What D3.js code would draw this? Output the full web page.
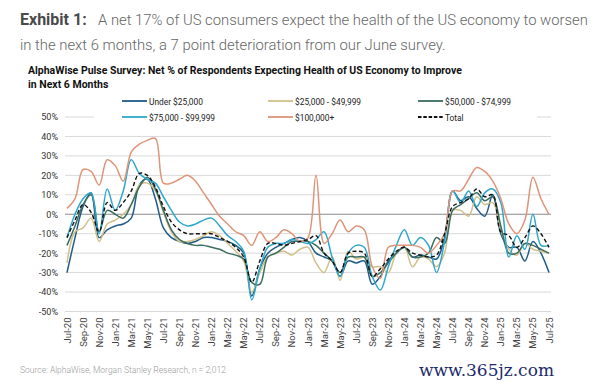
<!DOCTYPE html>
<html>
<head>
<meta charset="utf-8">
<script src="https://cdn.jsdelivr.net/npm/d3@7"></script>
<style>
  body { margin: 0; background: #fff; }
  svg { display: block; font-family: Roboto, "Liberation Sans", sans-serif; }
</style>
</head>
<body>
<svg id="chart" width="609" height="382"></svg>
<script>
// tick labels on the x axis (every second month)
const tickLabels = ["Jul-20","Sep-20","Nov-20","Jan-21","Mar-21","May-21","Jul-21","Sep-21","Nov-21","Jan-22",
  "Mar-22","May-22","Jul-22","Sep-22","Nov-22","Jan-23","Mar-23","May-23","Jul-23","Sep-23","Nov-23",
  "Jan-24","Mar-24","May-24","Jul-24","Sep-24","Nov-24","Jan-25","Mar-25","May-25","Jul-25"];

// monthly values, Jul-20 .. Jul-25 (net %)
const under25 = [-30,-12,4,11,-12,-8,-6,-5,-2,15,
  18,8,-7,-12,-14,-15,-14,-12,-12,-13,
  -14,-16,-20,-42,-28,-20,-17,-15,-13,-12,
  -14,-20,-22,-24,-32,-24,-25,-24,-36,-32,
  -24,-20,-17,-22,-21,-22,-23,-12,12,7,
  9,3,-1,10,-10,-17,-17,-24,-14,-20,
  -30];
const inc25to50 = [-25,-9,-7,-2,-14,-5,-3,0,5,15,
  16,12,1,-9,-14,-14,-13,-11,-9,-11,
  -15,-19,-24,-40,-30,-22,-20,-19,-21,-18,
  -17,-25,-30,-22,-34,-19,-23,-22,-27,-27,
  -30,-20,-17,-27,-22,-23,-27,-20,2,2,
  -1,9,5,6,-8,-18,-21,-15,-18,-19,
  -20];
const inc50to75 = [-16,-6,5,10,-9,2,0,-2,5,14,
  19,13,2,-8,-13,-15,-16,-16,-17,-18,
  -20,-21,-23,-35,-36,-22,-20,-17,-14,-14,
  -14,-16,-20,-24,-30,-22,-22,-22,-32,-30,
  -25,-20,-17,-22,-22,-20,-12,-15,2,5,
  8,11,7,9,-6,-20,-20,-15,-16,-18,
  -20];
const inc75to100 = [-12,0,8,11,-10,13,2,12,28,21,
  18,16,9,2,-4,-6,-5,-3,-2,-6,
  -11,-14,-19,-44,-28,-17,-15,-15,-13,-14,
  -15,-13,-9,-22,-32,-20,-16,-17,-32,-39,
  -27,-16,-8,-16,-12,-16,-30,-14,12,6,
  12,4,11,13,6,-22,-11,-18,0,-16,
  -16];
const over100 = [3,8,23,22,15,28,25,17,32,36,
  38,39,16,16,18,20,17,11,5,-1,
  -5,-9,-11,-16,-9,-14,-12,-8,-10,-14,
  -12,20,-15,-10,-3,-9,-6,-8,-27,-33,
  -17,-16,-16,-16,-17,-20,-16,-10,12,12,
  18,24,22,17,8,-5,-10,-3,19,8,
  0];
const total = [-12,-3,5,1,-9,6,2,6,12,21,
  20,14,4,-4,-8,-10,-10,-10,-10,-12,
  -14,-17,-22,-35,-24,-15,-15,-16,-15,-14,
  -13,-11,-20,-24,-30,-20,-19,-20,-32,-28,
  -23,-19,-17,-20,-21,-22,-21,-10,4,6,
  8,13,9,10,-9,-11,-17,-12,-6,-10,
  -17];

const series = [
  { name: "Under $25,000", values: under25, color: "#1f5c88" },
  { name: "$25,000 - $49,999", values: inc25to50, color: "#d1c089" },
  { name: "$50,000 - $74,999", values: inc50to75, color: "#3a6d60" },
  { name: "$75,000 - $99,999", values: inc75to100, color: "#2ea7cb" },
  { name: "$100,000+", values: over100, color: "#de9478" },
  { name: "Total", values: total, color: "#111", dash: "4,2.5" }
];

const svg = d3.select("#chart");
svg.append("rect").attr("width", 609).attr("height", 382).attr("fill", "#fff");

// fit a text into a given width by shrinking its font size (never growing it)
function fitText(sel, width) {
  const size = +sel.attr("font-size");
  const len = sel.node().getComputedTextLength();
  if (len > width) sel.attr("font-size", size * width / len);
  return sel;
}

// header text, both lines share the size the first line fits at
svg.append("text").attr("x", 20).attr("y", 25).attr("font-size", 16).attr("font-weight", 700)
  .attr("fill", "#4a4a4a").text("Exhibit 1:");
const head1 = fitText(svg.append("text").attr("x", 98).attr("y", 25).attr("font-size", 16).attr("font-weight", 300)
  .attr("fill", "#666").text("A net 17% of US consumers expect the health of the US economy to worsen"), 490);
svg.append("text").attr("x", 20).attr("y", 50).attr("font-size", head1.attr("font-size")).attr("font-weight", 300)
  .attr("fill", "#666").text("in the next 6 months, a 7 point deterioration from our June survey.");

// chart title, squeezed like a condensed face
const titleG = svg.append("g");
const t1 = titleG.append("text").attr("x", 0).attr("y", 74).attr("font-size", 11).attr("font-weight", 700)
  .attr("fill", "#111").text("AlphaWise Pulse Survey: Net % of Respondents Expecting Health of US Economy to Improve");
titleG.append("text").attr("x", 0).attr("y", 88).attr("font-size", 11).attr("font-weight", 700)
  .attr("fill", "#111").text("in Next 6 Months");
const squeeze = 434 / t1.node().getComputedTextLength();
titleG.attr("transform", `translate(28,0) scale(${squeeze},1)`);

// scales
const x = d3.scaleLinear().domain([0, 60]).range([67, 549]);
const y = d3.scaleLinear().domain([-50, 50]).range([311.5, 117]);

// gridlines
const yTicks = d3.range(-50, 51, 10);
svg.append("g").selectAll("line").data(yTicks).join("line")
  .attr("x1", 65).attr("x2", 551)
  .attr("y1", d => y(d)).attr("y2", d => y(d))
  .attr("stroke", d => d === 0 ? "#8a8a8a" : "#d9d9d9")
  .attr("stroke-width", d => d === 0 ? 1.2 : 1);

// y axis labels
const yAxis = svg.append("g").attr("transform", "translate(58,0)")
  .call(d3.axisLeft(y).tickValues(yTicks).tickFormat(d => d + "%").tickSize(0).tickPadding(0));
yAxis.select(".domain").remove();
yAxis.selectAll("text").attr("font-size", 9).attr("fill", "#333").attr("font-family", "Roboto");

// x axis labels, rotated
const xTicks = tickLabels.map((d, i) => i * 2);
const xAxis = svg.append("g").attr("transform", `translate(0,${y(-50)})`)
  .call(d3.axisBottom(x).tickValues(xTicks).tickFormat((d, i) => tickLabels[i]).tickSize(0));
xAxis.select(".domain").remove();
xAxis.selectAll("text")
  .attr("font-size", 9.5).attr("fill", "#444").attr("font-family", "Roboto")
  .attr("text-anchor", "end").attr("dy", "0.32em").attr("dx", 0)
  .attr("transform", "translate(0,6) rotate(-90)")
  .attr("x", 0).attr("y", 0);

// lines
const line = d3.line()
  .x((d, i) => x(i))
  .y(d => y(d))
  .curve(d3.curveCatmullRom.alpha(0.5));

svg.append("g").selectAll("path").data(series).join("path")
  .attr("d", d => line(d.values))
  .attr("fill", "none")
  .attr("stroke", d => d.color)
  .attr("stroke-width", d => d.dash ? 1.4 : 1.5)
  .attr("stroke-dasharray", d => d.dash || null);

// legend, sits on a white box over the top gridline
svg.append("rect").attr("x", 94).attr("y", 92).attr("width", 443).attr("height", 32).attr("fill", "#fff");
const legendPos = [[122, 101], [268, 101], [418, 101], [122, 117], [268, 117], [418, 117]];
const leg = svg.append("g").selectAll("g").data(series).join("g")
  .attr("transform", (d, i) => `translate(${legendPos[i][0]},${legendPos[i][1]})`);
leg.append("line").attr("x1", 0).attr("x2", 25).attr("y1", 0).attr("y2", 0)
  .attr("stroke", d => d.color).attr("stroke-width", 1.8)
  .attr("stroke-dasharray", d => d.dash ? "3.5,1.8" : null);
// slightly condensed legend text
leg.append("text").attr("x", 27).attr("y", 3.5).attr("font-size", 9.5).attr("fill", "#222")
  .attr("transform", "translate(27,0) scale(0.88,1) translate(-27,0)")
  .text(d => d.name);

// footer
svg.append("text").attr("x", 20).attr("y", 373).attr("font-size", 8.5).attr("fill", "#9a9a9a")
  .attr("font-weight", 300)
  .text("Source: AlphaWise, Morgan Stanley Research, n = 2,012");
fitText(svg.append("text").attr("x", 419).attr("y", 376).attr("font-size", 17).attr("fill", "#1d2a6b")
  .attr("font-family", "DejaVu Serif").text("www.365jz.com"), 180);
</script>
</body>
</html>
